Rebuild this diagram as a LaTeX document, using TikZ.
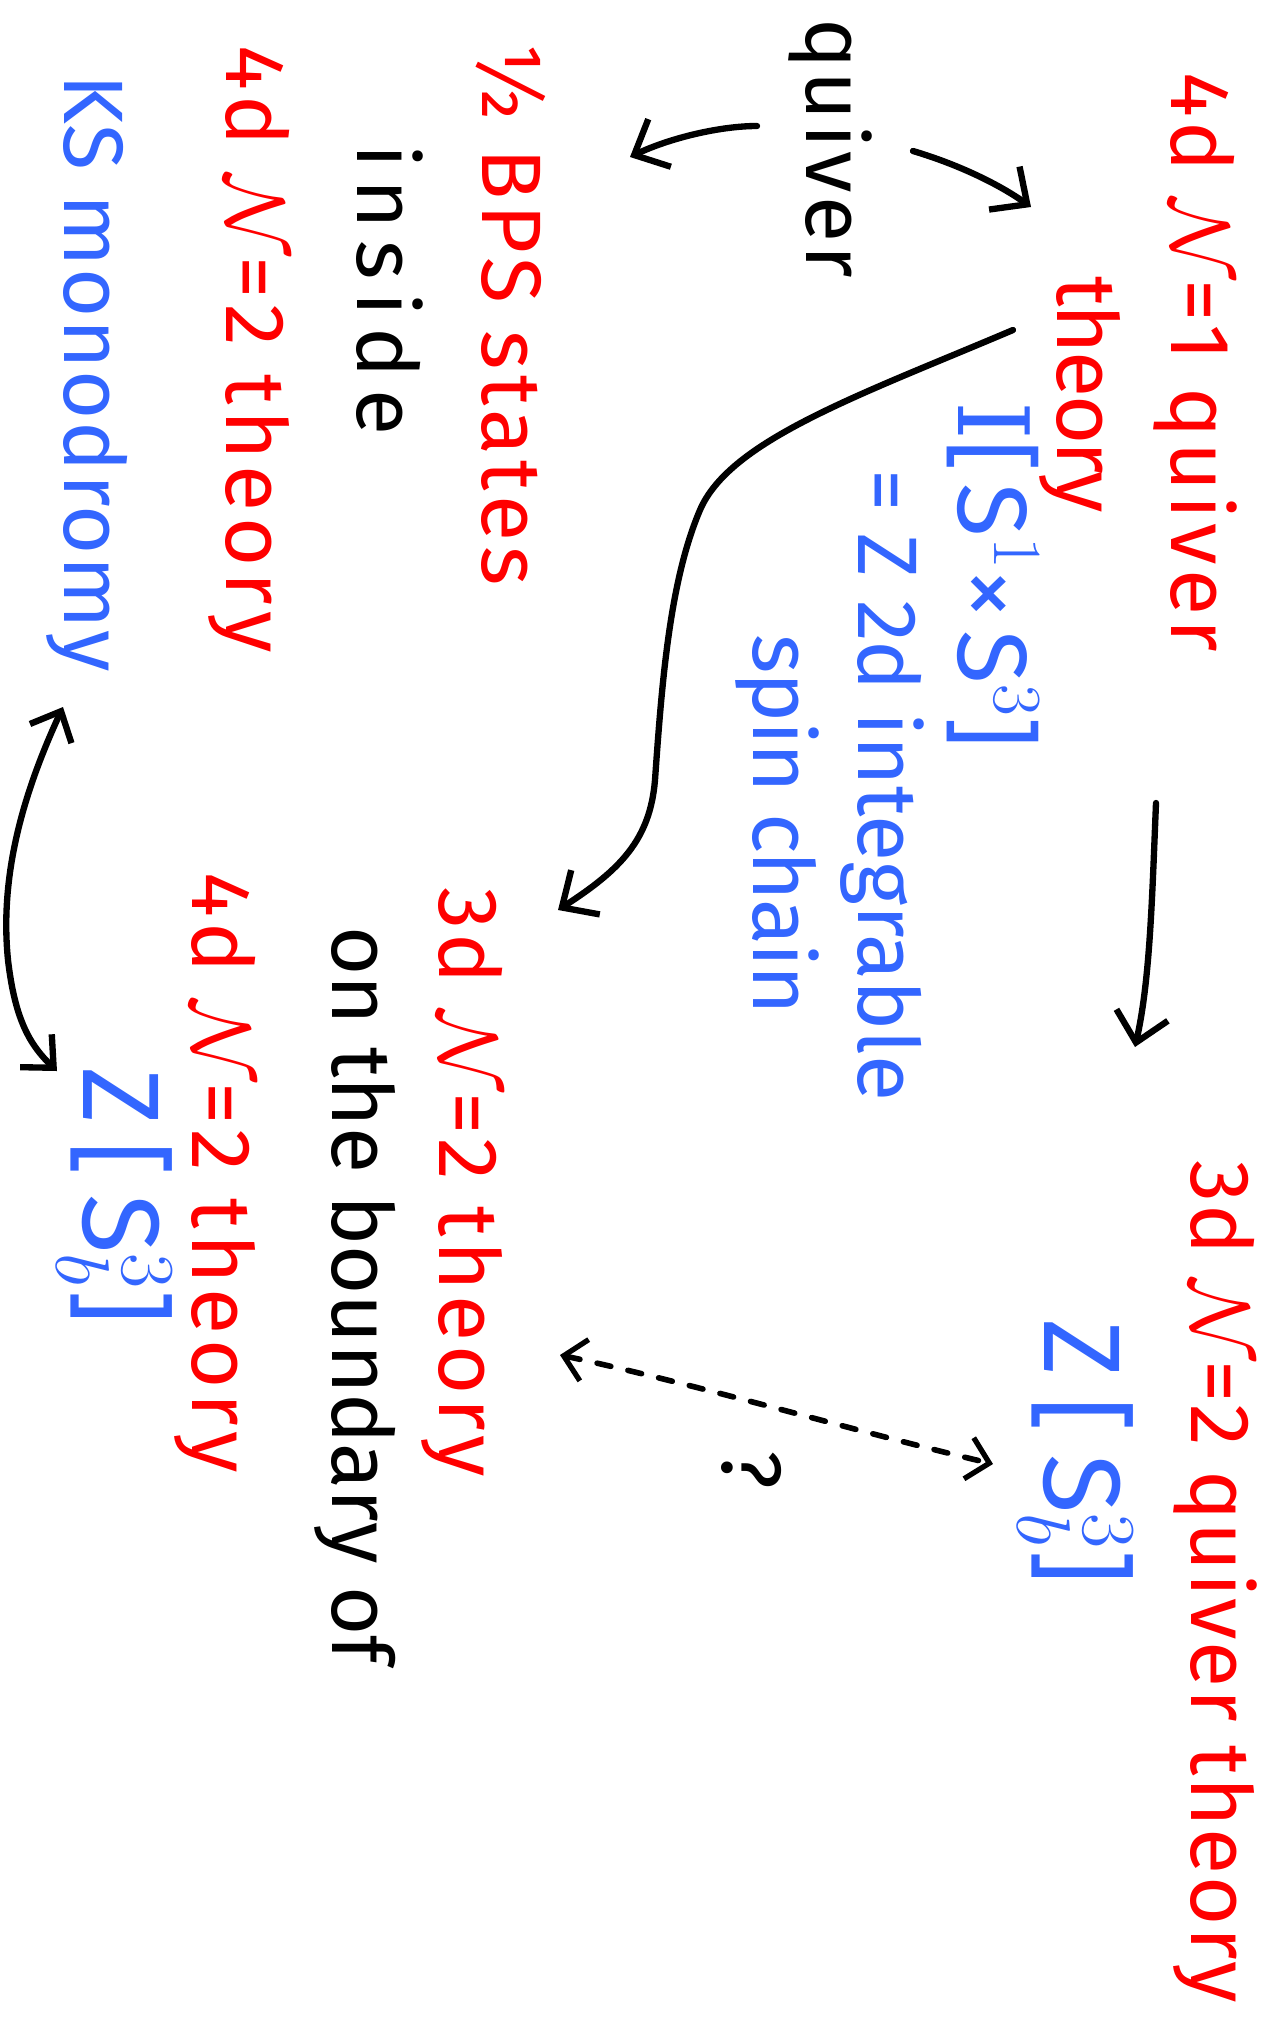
\RequirePackage{fix-cm}
\documentclass[tikz,border=0pt]{standalone}
\usepackage{fontspec}
\setmainfont{Fira Sans}
\newfontfamily\serifI{DejaVu Serif}
\usetikzlibrary{arrows.meta}
\definecolor{hred}{RGB}{255,0,0}
\definecolor{hblue}{RGB}{51,102,255}
\newcommand\hwf[2]{\fontsize{#1}{#1}\selectfont\addfontfeatures{LetterSpace=#2}}
\begin{document}
\begin{tikzpicture}[x=0.02cm,y=-0.02cm,
  txt/.style={rotate=-90,inner sep=0pt,font=\hwf{48}{0}},
  redtxt/.style={txt,text=hred},
  bluetxt/.style={txt,text=hblue},
  blktxt/.style={txt,text=black},
  conn/.style={line width=3.6pt,line cap=round,line join=round,
    -{Straight Barb[length=16pt,width=30pt,line width=3.6pt]}},
  dconn/.style={line width=3.2pt,line cap=round,dash pattern=on 8pt off 10pt,
    {Straight Barb[length=12pt,width=24pt,line width=3pt]}-{Straight Barb[length=12pt,width=24pt,line width=3pt]}},
  bconn/.style={line width=3.6pt,line cap=round,
    {Straight Barb[length=14pt,width=26pt,line width=3.6pt]}-{Straight Barb[length=14pt,width=26pt,line width=3.6pt]}}]
\useasboundingbox[fill=white] (0,0) rectangle (1286,2022);

% texts
\node[redtxt,font=\hwf{48}{5}]   (n4d1)   at (1195,362)  {4d $\mathcal{N}$=1 quiver};
\node[redtxt,font=\hwf{48}{-3}]  (th1)    at (1080,395)  {theory};
\node[bluetxt,font=\hwf{56}{12}] (idx)    at (993,575)   {{\serifI I}[S$^1$×S$^3$]};
\node[bluetxt]                   (zint)   at (882,785)   {= Z 2d integrable};
\node[bluetxt,font=\hwf{48}{-2}] (spin)   at (777,825)   {spin chain};
\node[blktxt,font=\hwf{48}{4}]   (quiv)   at (830,148)   {quiver};
\node[redtxt,font=\hwf{48}{6}]   (bps)    at (511,314)   {½ BPS states};
\node[blktxt,font=\hwf{48}{14}]  (ins)    at (390,290)   {inside};
\node[redtxt,font=\hwf{48}{7}]   (n4d2a)  at (249,349)   {4d $\mathcal{N}$=2 theory};
\node[bluetxt,font=\hwf{48}{2}]  (ks)     at (87,373)    {KS monodromy};
\node[redtxt,font=\hwf{48}{2}]   (n3dq)   at (1215,1582) {3d $\mathcal{N}$=2 quiver theory};
\node[bluetxt,font=\hwf{62}{20}] (zr)     at (1075,1452) {Z[S$^3_b$]};
\node[redtxt,font=\hwf{48}{5}]   (n3d)    at (462,1182)  {3d $\mathcal{N}$=2 theory};
\node[blktxt]                    (bdy)    at (355,1295)  {on the boundary of};
\node[redtxt,font=\hwf{48}{6}]   (n4d2b)  at (215,1173)  {4d $\mathcal{N}$=2 theory};
\node[bluetxt,font=\hwf{62}{16}] (zl)     at (114,1196)  {Z[S$^3_b$]};
\node[blktxt]                    (qm)     at (752,1470)  {?};

% connector end points
\coordinate (a0) at (913,151);  \coordinate (a1) at (1031,207);
\coordinate (b0) at (757,126);  \coordinate (b1) at (630,157);
\coordinate (c0) at (1013,330); \coordinate (c1) at (558,910);
\coordinate (d0) at (1156,803); \coordinate (d1) at (1135,1047);
\coordinate (e0) at (560,1355); \coordinate (e1) at (993,1464);
\coordinate (f0) at (63,707);   \coordinate (f1) at (57,1071);

\draw[conn] (a0) .. controls (960,165) and (1000,185) .. (a1);
\draw[conn] (b0) .. controls (720,126) and (670,138) .. (b1);
\draw[conn] (c0) .. controls (860,395) and (730,440) .. (700,510)
   .. controls (670,580) and (662,680) .. (655,780)
   .. controls (650,840) and (620,870) .. (c1);
\draw[conn] (d0) .. controls (1152,900) and (1150,980) .. (d1);
\draw[dconn] (e0) .. controls (700,1385) and (850,1430) .. (e1);
\draw[bconn] (f0) .. controls (20,800) and (0,880) .. (8,960)
   .. controls (15,1020) and (30,1045) .. (f1);
\end{tikzpicture}
\end{document}
